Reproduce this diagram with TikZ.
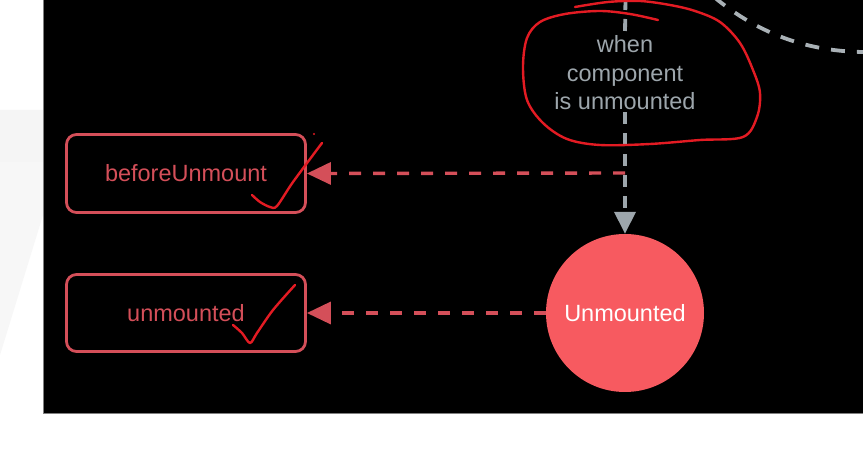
\documentclass[tikz,border=0pt]{standalone}
\usepackage{fontspec}
\setmainfont{Liberation Sans}
\usetikzlibrary{arrows.meta}
\definecolor{boxred}{HTML}{D44F59}
\definecolor{circred}{HTML}{F75A60}
\definecolor{flowgray}{HTML}{9DA6AC}
\definecolor{arcgray}{HTML}{A9B1B6}
\definecolor{annotred}{HTML}{E31B23}
\begin{document}
\begin{tikzpicture}[x=1pt,y=-1pt,
  hookbox/.style={draw=boxred, line width=2.8pt, rounded corners=10pt,
    minimum width=239pt, minimum height=78pt, text=boxred, inner sep=0pt,
    font=\fontsize{23.5}{28}\selectfont},
  statecirc/.style={circle, fill=circred, minimum size=158pt, inner sep=0pt,
    text=white, font=\fontsize{23.5}{28}\selectfont},
  condtext/.style={text=flowgray, align=center, inner xsep=0pt, inner ysep=2pt,
    font=\fontsize{23.5}{28.5}\selectfont},
  redflow/.style={draw=boxred, line width=3.4pt, dash pattern=on 12pt off 12pt,
    -{Triangle[length=24pt,width=22pt]}},
  grayflow/.style={draw=flowgray, line width=3.8pt, dash pattern=on 12pt off 9pt},
  grayarc/.style={draw=arcgray, line width=3.8pt, dash pattern=on 14pt off 12pt},
  annot/.style={draw=annotred, line width=2.4pt, line cap=round, line join=round}
]
\useasboundingbox (0,0) rectangle (863,462);
\clip (0,0) rectangle (863,462);
% faint background shapes on the white page
\fill[white] (0,0) rectangle (863,462);
\fill[black!3] (0,110) -- (43,110) -- (43,215) -- (0,355) -- cycle;
\fill[black!4] (0,110) rectangle (43,162);
% dark slide
\fill[black] (43,0) rectangle (863,414);
\draw[black!50, line width=0.8pt] (43.4,0) -- (43.4,413.6) -- (863,413.6);

% nodes
\node[hookbox] (before) at (186,173.5) {beforeUnmount};
\node[hookbox, minimum height=77pt] (unm) at (186,313) {unmounted};
\node[statecirc] (state) at (625,313) {Unmounted};
\node[condtext] (cond) at (625,73) {when\\component\\is unmounted};
\coordinate (top) at (625.5,-2);
\coordinate (junc) at (625,173);

% connectors
\draw[grayflow] (top) -- (cond.north);
\draw[grayflow, -{Triangle[length=22pt,width=21pt]}] (cond.south) -- (state.north);
\draw[redflow] (junc) -- (before.east);
\draw[redflow] (state.west) -- (unm.east);

% dashed arc at top right
\draw[grayarc] (714,-3) .. controls (760,35) and (810,52) .. (866,52);

% handwritten annotations
\draw[annot] plot[smooth, tension=0.55] coordinates {(658,20) (630,14) (600,11) (565,14) (540,22) (527,38) (523,67) (527,100) (543,123) (567,139) (600,145) (650,144) (700,140) (743,137) (757,117) (760,93) (753,70) (740,43) (720,22) (695,11) (670,5) (640,1) (608,2) (575,7)};
\draw[annot] plot[smooth, tension=0.5] coordinates {(252,195) (260,202) (270,207) (277,206) (293,182) (322,143)};
\fill[annotred] (314,134) circle (1.1pt);
\draw[annot] plot[smooth, tension=0.5] coordinates {(233,325) (242,333) (250,343) (257,333) (273,310) (295,285)};
\end{tikzpicture}
\end{document}
